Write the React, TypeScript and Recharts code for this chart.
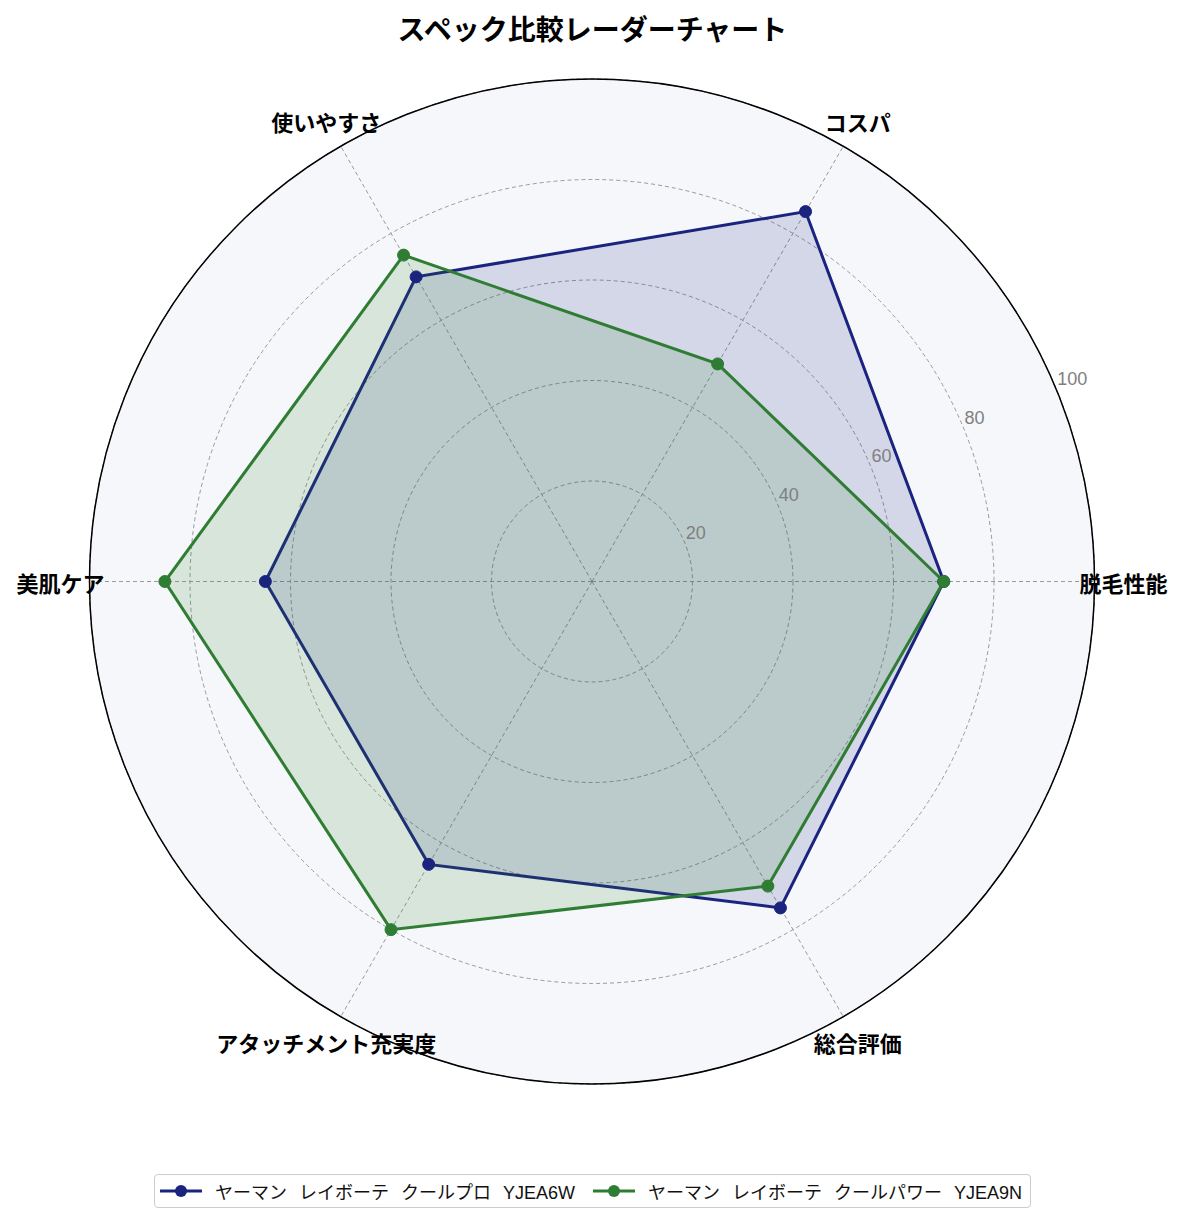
import React from 'react';
import { RadarChart, Radar, PolarGrid, PolarAngleAxis, PolarRadiusAxis, Legend } from 'recharts';

const categories = ['脱毛性能', 'コスパ', '使いやすさ', '美肌ケア', 'アタッチメント充実度', '総合評価'];
const seriesNames = ['ヤーマン レイボーテ クールプロ YJEA6W', 'ヤーマン レイボーテ クールパワー YJEA9N'];
const proValues = [70, 85, 70, 65, 65, 75];
const powerValues = [70, 50, 75, 85, 80, 70];
const radiusTicks = [0, 20, 40, 60, 80, 100];

const NAVY = '#1a237e';
const GREEN = '#2e7d32';
const FONT = '"Noto Sans CJK JP", "Noto Sans", sans-serif';
const LATIN_FONT = '"Liberation Sans", "Noto Sans CJK JP", sans-serif';

// Recharts lays categories out clockwise; the reference goes counter-clockwise
// from the right, so the table lists the first category then the rest in reverse.
const order = [0, ...categories.slice(1).map((_, i) => categories.length - 1 - i)];
const data = order.map((i) => ({ category: categories[i], pro: proValues[i], power: powerValues[i] }));

const RadiusTick = (props: any) => {
  const { x, y, payload } = props;
  if (payload.value === 0) return <g />;
  return (
    <text x={x + 1} y={y - 4} textAnchor="start" fill="#808080" fontSize={18} fontFamily={LATIN_FONT}>
      {payload.value}
    </text>
  );
};

const AngleTick = (props: any) => {
  const { x, y, payload } = props;
  return (
    <text x={x} y={y} textAnchor="middle" dominantBaseline="central" fill="#000" fontSize={22} fontWeight={700} fontFamily={FONT}>
      {payload.value}
    </text>
  );
};

const LegendContent = (props: any) => {
  const { payload } = props;
  const items = seriesNames
    .map((n) => (payload || []).find((p: any) => p.value === n))
    .filter(Boolean);
  return (
    <div style={{ display: 'flex', justifyContent: 'center' }}>
      <div
        style={{
          display: 'inline-flex',
          alignItems: 'center',
          height: 34,
          boxSizing: 'border-box',
          border: '1.5px solid #cccccc',
          borderRadius: 4,
          padding: '0 8px 0 5px',
          background: '#fff',
          gap: 18,
        }}
      >
        {items.map((p: any) => (
          <div key={p.value} style={{ display: 'flex', alignItems: 'center' }}>
            <svg width={42} height={14} style={{ marginRight: 13 }}>
              <line x1={0} y1={7} x2={42} y2={7} stroke={p.color} strokeWidth={3} />
              <circle cx={21} cy={7} r={6} fill={p.color} />
            </svg>
            <span style={{ fontSize: 18, color: '#111', fontFamily: LATIN_FONT, whiteSpace: 'nowrap', wordSpacing: 7 }}>{p.value}</span>
          </div>
        ))}
      </div>
    </div>
  );
};

export default function App() {
  return (
    <div style={{ position: 'absolute', left: 0, top: 0, width: 1185, height: 1223, background: '#fff', fontFamily: FONT }}>
      <RadarChart
        width={1185}
        height={1223}
        data={data}
        cx={592}
        cy={581.5}
        outerRadius={502.5}
        startAngle={0}
        endAngle={-360}
        margin={{ top: 0, right: 0, bottom: 0, left: 0 }}
      >
        <PolarGrid gridType="circle" stroke="#9a9a9a" strokeDasharray="4 3" strokeWidth={1} fill="#f5f7fa" />
        <PolarAngleAxis
          dataKey="category"
          axisLineType="circle"
          axisLine={{ stroke: '#000', strokeWidth: 1.5 }}
          tickLine={false}
          tickSize={29}
          tick={<AngleTick />}
        />
        <PolarRadiusAxis
          type="number"
          angle={22.5}
          domain={[0, 100]}
          ticks={radiusTicks}
          axisLine={false}
          tickLine={false}
          tick={<RadiusTick />}
        />
        <Radar
          name={seriesNames[0]}
          dataKey="pro"
          stroke={NAVY}
          strokeWidth={3}
          fill={NAVY}
          fillOpacity={0.15}
          dot={{ r: 6, fill: NAVY, stroke: NAVY, strokeWidth: 1, fillOpacity: 1 }}
          isAnimationActive={false}
        />
        <Radar
          name={seriesNames[1]}
          dataKey="power"
          stroke={GREEN}
          strokeWidth={3}
          fill={GREEN}
          fillOpacity={0.15}
          dot={{ r: 6, fill: GREEN, stroke: GREEN, strokeWidth: 1, fillOpacity: 1 }}
          isAnimationActive={false}
        />
        <Legend
          content={<LegendContent />}
          wrapperStyle={{ position: 'absolute', left: 0, top: 1174, width: 1185 }}
        />
      </RadarChart>
      <div
        style={{
          position: 'absolute',
          left: 0,
          top: 9,
          width: 1185,
          textAlign: 'center',
          fontSize: 28,
          fontWeight: 700,
          lineHeight: '38px',
          color: '#000',
          fontFamily: FONT,
        }}
      >
        スペック比較レーダーチャート
      </div>
    </div>
  );
}
